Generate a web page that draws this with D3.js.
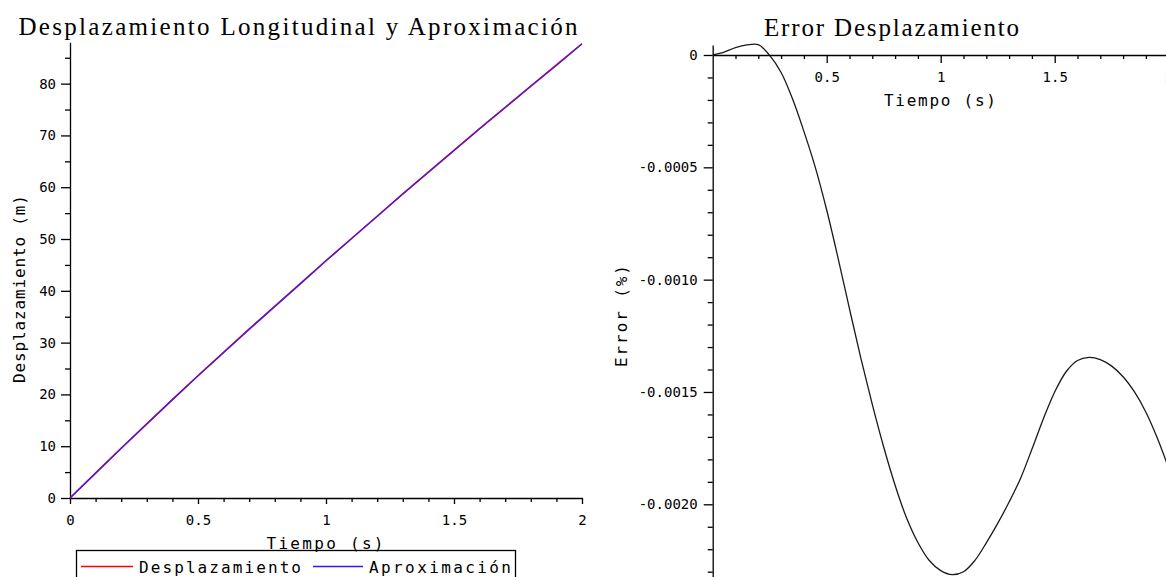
<!DOCTYPE html>
<html>
<head>
<meta charset="utf-8">
<script src="https://cdn.jsdelivr.net/npm/d3@7"></script>
<style>
  body { margin: 0; background: #fff; }
  svg { display: block; }
  .tick text { font-family: "DejaVu Sans Mono", monospace; font-size: 14px; fill: #000; }
  .axis path, .axis line { stroke: #000; stroke-width: 1.3; }
</style>
</head>
<body>
<svg id="chart" width="1166" height="577"></svg>
<script>
// Data - left plot
var tiempo = [0, 0.1, 0.2, 0.3, 0.4, 0.5, 0.6, 0.7, 0.8, 0.9, 1.0,
              1.1, 1.2, 1.3, 1.4, 1.5, 1.6, 1.7, 1.8, 1.9, 2.0];
var desplazamiento = [0, 4.8, 9.6, 14.3, 19.0, 23.6, 28.1, 32.6, 37.0, 41.4, 45.8,
                      50.1, 54.4, 58.7, 62.9, 67.1, 71.3, 75.4, 79.5, 83.6, 87.7];
var aproximacion = [0, 4.8, 9.6, 14.3, 19.0, 23.6, 28.1, 32.6, 37.0, 41.4, 45.8,
                    50.1, 54.4, 58.7, 62.9, 67.1, 71.3, 75.4, 79.5, 83.5, 87.7];

// Data - right plot (error %)
var tiempoError = [0, 0.05, 0.1, 0.15, 0.2, 0.25, 0.3, 0.35, 0.4, 0.45, 0.5,
                   0.55, 0.6, 0.65, 0.7, 0.75, 0.8, 0.85, 0.9, 0.95, 1.0,
                   1.05, 1.1, 1.15, 1.2, 1.25, 1.3, 1.35, 1.4, 1.45, 1.5,
                   1.55, 1.6, 1.65, 1.7, 1.75, 1.8, 1.85, 1.9, 1.95, 2.0];
var errorDesp = [0, 0.000013, 0.000033, 0.000045, 0.000046, -0.000002, -0.000078, -0.000195, -0.00034, -0.0005, -0.00069,
                 -0.000905, -0.00113, -0.00135, -0.001555, -0.001745, -0.001915, -0.00206, -0.00217, -0.00225, -0.002295,
                 -0.002313, -0.0023, -0.00225, -0.002172, -0.002085, -0.00199, -0.001885, -0.001755, -0.00162, -0.0015,
                 -0.00141, -0.00136, -0.001346, -0.001356, -0.001385, -0.001432, -0.0015, -0.00159, -0.001705, -0.00184];

// Ticks
var xTicksLeft = [0, 0.5, 1, 1.5, 2];
var xMinorLeft = [0.1, 0.2, 0.3, 0.4, 0.6, 0.7, 0.8, 0.9, 1.1, 1.2, 1.3, 1.4, 1.6, 1.7, 1.8, 1.9];
var yTicksLeft = [0, 10, 20, 30, 40, 50, 60, 70, 80];
var yMinorLeft = [5, 15, 25, 35, 45, 55, 65, 75, 85];
var xTicksRight = [0.5, 1, 1.5, 2];
var yTicksRight = [0, -0.0005, -0.001, -0.0015, -0.002];
var yTickLabelsRight = ["0", "-0.0005", "-0.0010", "-0.0015", "-0.0020"];
var yMinorRight = [-0.0001, -0.0002, -0.0003, -0.0004, -0.0006, -0.0007, -0.0008, -0.0009,
                   -0.0011, -0.0012, -0.0013, -0.0014, -0.0016, -0.0017, -0.0018, -0.0019,
                   -0.0021, -0.0022, -0.0023];

var svg = d3.select("#chart");
var monoFont = "DejaVu Sans Mono, monospace";
var serifFont = "Liberation Serif, Times New Roman, serif";

// ---------- Left plot ----------
const xL = d3.scaleLinear().domain([0, 2]).range([70, 582]);
const yL = d3.scaleLinear().domain([0, 88]).range([498, 42.2]);

svg.append("g")
  .attr("class", "axis")
  .attr("transform", "translate(0,498)")
  .call(d3.axisBottom(xL).tickValues(xMinorLeft).tickFormat("").tickSize(4).tickSizeOuter(0))
  .call(g => g.select(".domain").remove());

svg.append("g")
  .attr("class", "axis")
  .attr("transform", "translate(0,498)")
  .call(d3.axisBottom(xL).tickValues(xTicksLeft).tickFormat(d => String(d))
        .tickSize(6).tickSizeOuter(0).tickPadding(11));

svg.append("g")
  .attr("class", "axis")
  .attr("transform", "translate(70,0)")
  .call(d3.axisLeft(yL).tickValues(yMinorLeft).tickFormat("").tickSize(5).tickSizeOuter(0))
  .call(g => g.select(".domain").remove());

svg.append("g")
  .attr("class", "axis")
  .attr("transform", "translate(70,0)")
  .call(d3.axisLeft(yL).tickValues(yTicksLeft).tickFormat(d => String(d))
        .tickSize(9).tickSizeOuter(0).tickPadding(5));

var leftData = tiempo.map((t, i) => ({t: t, d: desplazamiento[i], a: aproximacion[i]}));

svg.append("path")
  .datum(leftData)
  .attr("fill", "none")
  .attr("stroke", "#ff0000")
  .attr("stroke-width", 1.6)
  .attr("d", d3.line().x(d => xL(d.t)).y(d => yL(d.d)));

svg.append("path")
  .datum(leftData)
  .attr("fill", "none")
  .attr("stroke", "#2a1cff")
  .attr("stroke-opacity", 0.8)
  .attr("stroke-width", 1.5)
  .attr("d", d3.line().x(d => xL(d.t)).y(d => yL(d.a)));

// titles and labels
svg.append("text")
  .attr("x", 298).attr("y", 35)
  .attr("text-anchor", "middle")
  .attr("textLength", 559).attr("lengthAdjust", "spacing")
  .style("font-family", serifFont).style("font-size", "25px")
  .text("Desplazamiento Longitudinal y Aproximación");

svg.append("text")
  .attr("transform", "translate(25,289) rotate(-90)")
  .attr("text-anchor", "middle")
  .attr("textLength", 188).attr("lengthAdjust", "spacing")
  .style("font-family", monoFont).style("font-size", "16px")
  .text("Desplazamiento (m)");

// Legend
svg.append("rect")
  .attr("x", 76.5).attr("y", 550.5)
  .attr("width", 439).attr("height", 40)
  .attr("fill", "#fff").attr("stroke", "#000").attr("stroke-width", 1.3);

svg.append("text")
  .attr("x", 325).attr("y", 549)
  .attr("text-anchor", "middle")
  .attr("textLength", 117).attr("lengthAdjust", "spacing")
  .style("font-family", monoFont).style("font-size", "16px")
  .text("Tiempo (s)");

var legendItems = [
  {name: "Desplazamiento", color: "#ff0000", x0: 81, x1: 133, tx: 139, len: 162},
  {name: "Aproximación", color: "#2a1cff", x0: 313, x1: 363, tx: 369, len: 142}
];
legendItems.forEach(function(item) {
  svg.append("line")
    .attr("x1", item.x0).attr("x2", item.x1)
    .attr("y1", 566.5).attr("y2", 566.5)
    .attr("stroke", item.color).attr("stroke-width", 1.3);
  svg.append("text")
    .attr("x", item.tx).attr("y", 572.5)
    .attr("textLength", item.len).attr("lengthAdjust", "spacing")
    .style("font-family", monoFont).style("font-size", "16px")
    .text(item.name);
});

// ---------- Right plot ----------
const xR = d3.scaleLinear().domain([0, 2]).range([712.7, 1168.7]);
const yBase = d3.scaleLinear().domain([0, -0.002]).range([55, 504.3]);
const yR = d3.scaleLinear().domain([yBase.invert(45), yBase.invert(580)]).range([45, 580]);

svg.append("g")
  .attr("class", "axis")
  .attr("transform", "translate(0,55)")
  .call(d3.axisBottom(xR).tickValues(xMinorLeft).tickFormat("").tickSize(4).tickSizeOuter(0))
  .call(g => g.select(".domain").remove());

svg.append("g")
  .attr("class", "axis")
  .attr("transform", "translate(0,55)")
  .call(d3.axisBottom(xR).tickValues(xTicksRight).tickFormat(d => String(d))
        .tickSize(8).tickSizeOuter(0).tickPadding(9));

svg.append("g")
  .attr("class", "axis")
  .attr("transform", "translate(712.7,0)")
  .call(d3.axisLeft(yR).tickValues(yMinorRight).tickFormat("").tickSize(5).tickSizeOuter(0))
  .call(g => g.select(".domain").remove());

svg.append("g")
  .attr("class", "axis")
  .attr("transform", "translate(712.7,0)")
  .call(d3.axisLeft(yR).tickValues(yTicksRight).tickFormat((d, i) => yTickLabelsRight[i])
        .tickSize(9).tickSizeOuter(0).tickPadding(6));

var rightData = tiempoError.map((t, i) => ({t: t, e: errorDesp[i]}));

svg.append("path")
  .datum(rightData)
  .attr("fill", "none")
  .attr("stroke", "#1a1a1a")
  .attr("stroke-width", 1.3)
  .attr("d", d3.line().curve(d3.curveCatmullRom).x(d => xR(d.t)).y(d => yR(d.e)));

svg.append("text")
  .attr("x", 891.5).attr("y", 36)
  .attr("text-anchor", "middle")
  .attr("textLength", 255).attr("lengthAdjust", "spacing")
  .style("font-family", serifFont).style("font-size", "25px")
  .text("Error Desplazamiento");

svg.append("text")
  .attr("x", 940).attr("y", 106)
  .attr("text-anchor", "middle")
  .attr("textLength", 112).attr("lengthAdjust", "spacing")
  .style("font-family", monoFont).style("font-size", "16px")
  .text("Tiempo (s)");

svg.append("text")
  .attr("transform", "translate(627,316) rotate(-90)")
  .attr("text-anchor", "middle")
  .attr("textLength", 102).attr("lengthAdjust", "spacing")
  .style("font-family", monoFont).style("font-size", "16px")
  .text("Error (%)");
</script>
</body>
</html>
